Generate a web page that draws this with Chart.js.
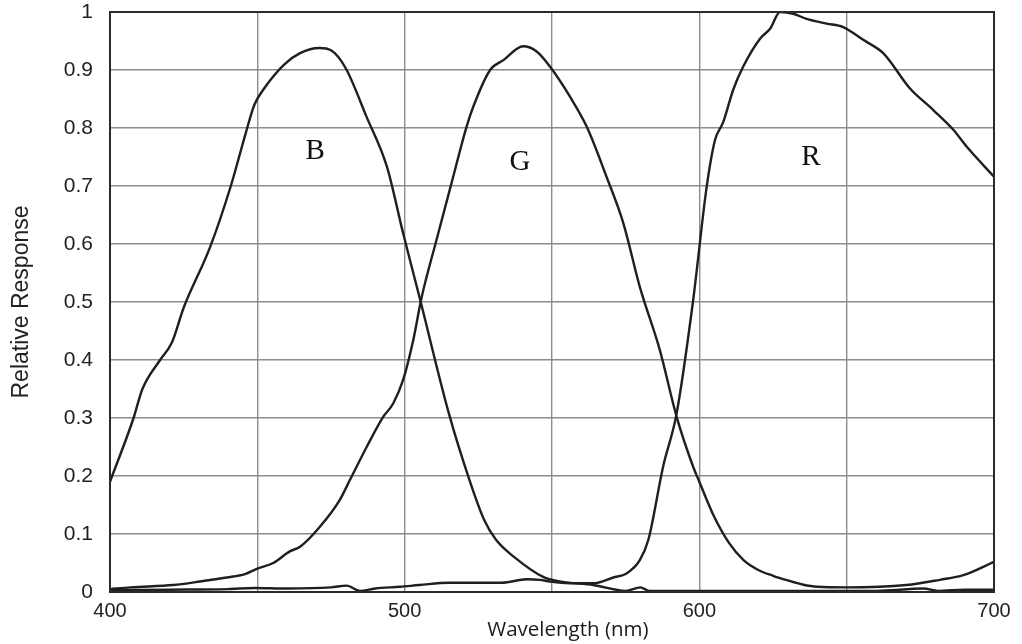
<!DOCTYPE html>
<html>
<head>
<meta charset="utf-8">
<script src="https://cdn.jsdelivr.net/npm/chart.js@4/dist/chart.umd.min.js"></script>
<style>
  html, body { margin: 0; padding: 0; background: #ffffff; }
  #wrap { width: 1022px; height: 644px; }
</style>
</head>
<body>
<div id="wrap"><canvas id="c" width="1022" height="644"></canvas></div>
<script>
// ---- data ----
const bWave = [400, 408, 411, 417, 421, 425, 434, 441, 446, 449, 452, 459, 464.5, 471, 475, 480, 487, 494, 499.5, 505, 515, 522, 527, 531, 537, 547, 553, 564, 575, 580, 583, 600, 620, 640, 660, 676, 681, 690, 700];
const bResp = [0.19, 0.30, 0.35, 0.40, 0.43, 0.49, 0.595, 0.70, 0.79, 0.84, 0.866, 0.909, 0.929, 0.938, 0.934, 0.903, 0.82, 0.733, 0.618, 0.509, 0.308, 0.193, 0.124, 0.09, 0.061, 0.026, 0.018, 0.012, 0.002, 0.008, 0.002, 0.002, 0.002, 0.002, 0.002, 0.006, 0.002, 0.004, 0.004];

const gWave = [400, 407, 421.5, 430.5, 439.6, 445.8, 449.8, 455.4, 461, 464.5, 471.3, 478, 481.4, 487.1, 492.7, 496.1, 499.5, 502.9, 505.8, 510.8, 515.9, 521, 523.3, 529, 533.5, 540.2, 544.8, 549.3, 556.1, 561.8, 568.5, 574.2, 579.8, 586.6, 592.3, 597.9, 600, 605, 610, 615, 620, 625, 630, 635, 640, 650, 670.3, 681.6, 689.6, 700];
const gResp = [0.005, 0.008, 0.012, 0.018, 0.025, 0.031, 0.04, 0.05, 0.07, 0.078, 0.113, 0.159, 0.193, 0.25, 0.302, 0.325, 0.366, 0.434, 0.509, 0.607, 0.705, 0.802, 0.837, 0.9, 0.917, 0.941, 0.932, 0.906, 0.854, 0.802, 0.716, 0.636, 0.526, 0.417, 0.302, 0.216, 0.19, 0.13, 0.085, 0.055, 0.038, 0.028, 0.02, 0.013, 0.009, 0.008, 0.012, 0.021, 0.029, 0.052];

const rWave = [400, 420, 440, 449, 460, 475, 480.3, 484.8, 490, 498.4, 505, 515, 533, 541.4, 545.9, 549.3, 556, 564, 570.8, 575.3, 579.8, 582.7, 587.7, 592.3, 597.9, 602.5, 605.3, 608.1, 611.5, 614.9, 620.6, 624, 627.4, 631.9, 636.4, 643.2, 648.8, 655.6, 662.4, 671.5, 679.4, 686.2, 690.7, 700];
const rResp = [0.003, 0.004, 0.005, 0.007, 0.006, 0.008, 0.011, 0.002, 0.006, 0.009, 0.012, 0.016, 0.016, 0.022, 0.021, 0.018, 0.015, 0.015, 0.025, 0.032, 0.055, 0.09, 0.216, 0.308, 0.503, 0.699, 0.779, 0.81, 0.866, 0.906, 0.954, 0.971, 1.0, 0.997, 0.988, 0.98, 0.974, 0.952, 0.929, 0.868, 0.831, 0.797, 0.768, 0.716];

const xTickLabels = ['400', '500', '600', '700'];
const curveLabels = ['B', 'G', 'R'];
const curveLabelWave = [469.6, 539.1, 637.9];
const curveLabelResp = [0.759, 0.741, 0.75];

const xTitle = 'Wavelength (nm)';
const xTitleWave = 555.4;
const yTitle = 'Relative Response';

function pts(w, r) { return w.map((x, i) => ({ x: x, y: r[i] })); }

const lineStyle = {
  borderColor: '#1f1f1f',
  borderWidth: 2.4,
  pointRadius: 0,
  fill: false,
  cubicInterpolationMode: 'monotone'
};

const decor = {
  id: 'decor',
  beforeDraw(chart) {
    const ctx = chart.ctx;
    ctx.save();
    ctx.fillStyle = '#ffffff';
    ctx.fillRect(0, 0, chart.width, chart.height);
    ctx.restore();
  },
  afterDraw(chart) {
    const ctx = chart.ctx;
    const a = chart.chartArea;
    const xs = chart.scales.x, ys = chart.scales.y;
    ctx.save();
    // frame
    ctx.strokeStyle = '#2a2a2a';
    ctx.lineWidth = 2;
    ctx.strokeRect(a.left, a.top, a.right - a.left, a.bottom - a.top);
    // curve letters
    ctx.fillStyle = '#111111';
    ctx.font = '29px "Liberation Serif", "Times New Roman", serif';
    ctx.textAlign = 'center';
    ctx.textBaseline = 'middle';
    curveLabels.forEach((t, i) => {
      ctx.fillText(t, xs.getPixelForValue(curveLabelWave[i]), ys.getPixelForValue(curveLabelResp[i]));
    });
    // x axis title
    ctx.font = '20.5px "Open Sans", sans-serif';
    ctx.fillStyle = '#1a1a1a';
    ctx.fillText(xTitle, xs.getPixelForValue(xTitleWave), 630);
    ctx.restore();
  }
};

new Chart(document.getElementById('c'), {
  type: 'line',
  data: {
    datasets: [
      Object.assign({ label: 'B', data: pts(bWave, bResp) }, lineStyle),
      Object.assign({ label: 'G', data: pts(gWave, gResp) }, lineStyle),
      Object.assign({ label: 'R', data: pts(rWave, rResp) }, lineStyle)
    ]
  },
  options: {
    responsive: false,
    animation: false,
    events: [],
    layout: { padding: { top: 12, right: 28, left: 0, bottom: 0 } },
    plugins: { legend: { display: false }, tooltip: { enabled: false } },
    scales: {
      x: {
        type: 'linear',
        min: 400, max: 700,
        afterFit(s) { s.height = 52; s.paddingLeft = 0; s.paddingRight = 0; },
        grid: { color: '#8c8c8c', lineWidth: 1.4, drawTicks: false },
        border: { display: false },
        ticks: {
          stepSize: 50,
          padding: 9,
          color: '#222222',
          maxRotation: 0,
          autoSkip: false,
          font: { family: '"Liberation Sans", Arial, sans-serif', size: 20, lineHeight: 1 },
          callback(v) { const s = String(v); return xTickLabels.includes(s) ? s : ''; }
        }
      },
      y: {
        type: 'linear',
        min: 0, max: 1,
        afterFit(s) { s.width = 110; s.paddingTop = 0; s.paddingBottom = 0; },
        grid: { color: '#8c8c8c', lineWidth: 1.4, drawTicks: false },
        border: { display: false },
        ticks: {
          stepSize: 0.1,
          padding: 17,
          color: '#222222',
          font: { family: '"Liberation Sans", Arial, sans-serif', size: 21, lineHeight: 1 },
          callback(v) { const r = Math.round(v * 10) / 10; return (r === 0 || r === 1) ? String(r) : r.toFixed(1); }
        },
        title: {
          display: true,
          text: yTitle,
          color: '#222222',
          padding: { top: 8, bottom: 0 },
          font: { family: '"Liberation Sans", Arial, sans-serif', size: 23, lineHeight: 1.2 }
        }
      }
    }
  },
  plugins: [decor]
});
</script>
</body>
</html>
